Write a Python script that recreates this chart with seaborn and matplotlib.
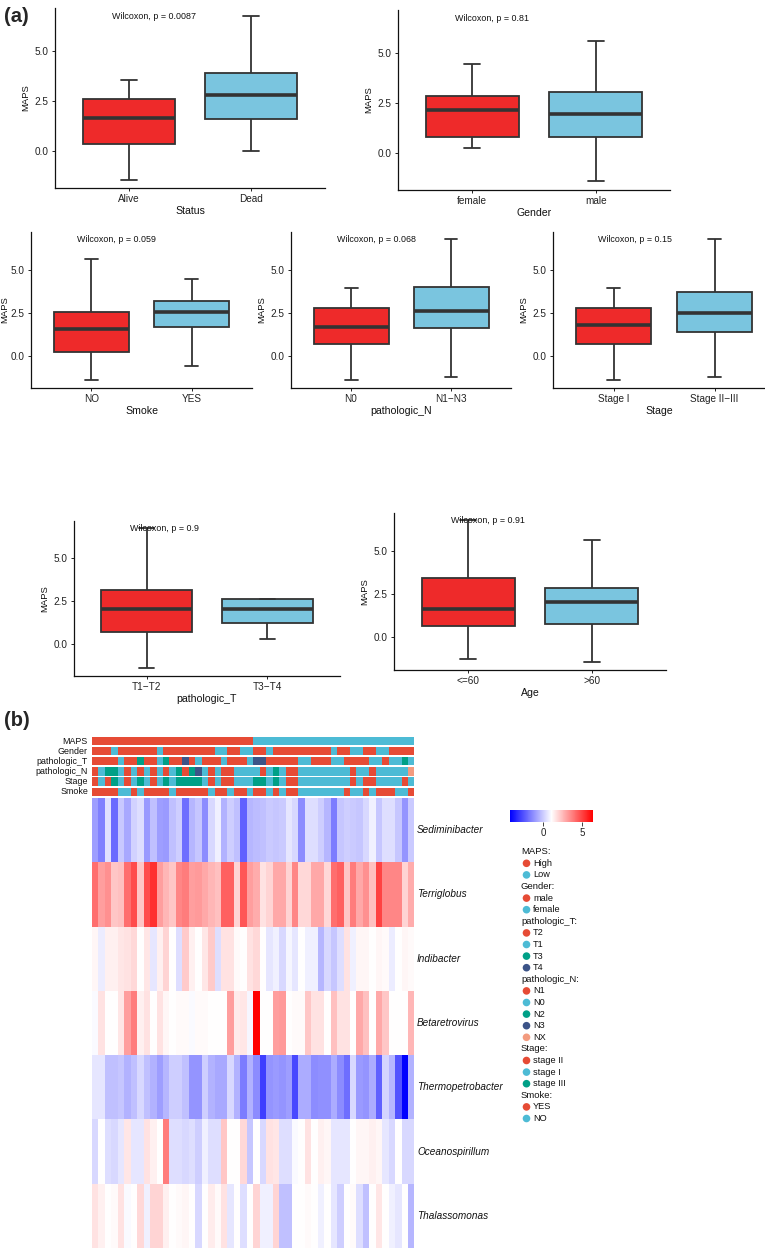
import numpy as np
import pandas as pd
import matplotlib
matplotlib.use("Agg")
import matplotlib.pyplot as plt
import seaborn as sns
from matplotlib.colors import LinearSegmentedColormap, ListedColormap, Normalize
from matplotlib.cm import ScalarMappable

sns.set_style("ticks")
plt.rcParams['font.family'] = ['Liberation Sans', 'DejaVu Sans']

W, H = 765, 1250
fig = plt.figure(figsize=(W / 100, H / 100), dpi=100)


def add_ax(l, t, r, b):
    return fig.add_axes([l / W, 1 - b / H, (r - l) / W, (b - t) / H])


RED, BLUE = "#EE2A2A", "#7AC5DF"

# ---------------- (a) box plots: [lower whisker, Q1, median, Q3, upper whisker]
# overall MAPS extremes of the cohort (hidden outliers still set the y scale)
maps_min, maps_max = -1.47, 6.78

status_cats = ["Alive", "Dead"]
status_alive = [-1.47, 0.33, 1.63, 2.58, 3.55]
status_dead = [0.0, 1.60, 2.80, 3.93, 6.78]

gender_cats = ["female", "male"]
gender_female = [0.23, 0.78, 2.15, 2.85, 4.47]
gender_male = [-1.44, 0.80, 1.95, 3.05, 5.63]

smoke_cats = ["NO", "YES"]
smoke_no = [-1.44, 0.23, 1.56, 2.51, 5.63]
smoke_yes = [-0.60, 1.64, 2.51, 3.19, 4.47]

n_cats = ["N0", "N1\u2212N3"]
n_n0 = [-1.44, 0.70, 1.66, 2.75, 3.92]
n_n13 = [-1.22, 1.58, 2.57, 3.99, 6.78]

stage_cats = ["Stage I", "Stage II\u2212III"]
stage_i = [-1.44, 0.67, 1.80, 2.80, 3.92]
stage_ii3 = [-1.22, 1.40, 2.49, 3.73, 6.78]

t_cats = ["T1\u2212T2", "T3\u2212T4"]
t_t12 = [-1.44, 0.68, 2.05, 3.15, 6.78]
t_t34 = [0.28, 1.20, 2.05, 2.60, 2.65]

age_cats = ["<=60", ">60"]
age_le60 = [-1.22, 0.68, 1.65, 3.45, 6.78]
age_gt60 = [-1.44, 0.80, 2.05, 2.88, 5.63]

p_labels = ["Wilcoxon, p = 0.0087", "Wilcoxon, p = 0.81", "Wilcoxon, p = 0.059",
            "Wilcoxon, p = 0.068", "Wilcoxon, p = 0.15", "Wilcoxon, p = 0.9",
            "Wilcoxon, p = 0.91"]

panels = [
    ((55, 8, 325, 188), status_cats, [status_alive, status_dead], "Status", p_labels[0], None, 3),
    ((398, 10, 670, 190), gender_cats, [gender_female, gender_male], "Gender", p_labels[1], None, 3),
    ((31, 232, 252, 388), smoke_cats, [smoke_no, smoke_yes], "Smoke", p_labels[2], None, 1),
    ((291, 232, 511, 388), n_cats, [n_n0, n_n13], "pathologic_N", p_labels[3], None, 3),
    ((553, 232, 765, 388), stage_cats, [stage_i, stage_ii3], "Stage", p_labels[4], 2.5, 3),
    ((74, 521, 340, 676), t_cats, [t_t12, t_t34], "pathologic_T", p_labels[5], None, 3),
    ((394, 513, 666, 670), age_cats, [age_le60, age_gt60], "Age", p_labels[6], None, 3),
]

for rect, cats, stats, xlabel, ptxt, xmax, lpad in panels:
    ax = add_ax(*rect)
    df = pd.DataFrame({"group": np.repeat(cats, 5), "MAPS": np.concatenate(stats)})
    sns.boxplot(data=df, x="group", y="MAPS", hue="group", order=cats, hue_order=cats,
                palette=[RED, BLUE], saturation=1, width=0.75, whis=(0, 100),
                linewidth=1.3, linecolor="#333333", fliersize=0, legend=False,
                capwidths=0.13, medianprops={"linewidth": 2.6, "color": "#333333"}, ax=ax)
    pad = 0.05 * (maps_max - maps_min)
    ax.set_ylim(maps_min - pad, maps_max + pad)
    ax.set_xlim(-0.6, 1.6 if xmax is None else xmax - 1)
    ax.set_yticks([0, 2.5, 5.0])
    ax.set_yticklabels(["0.0", "2.5", "5.0"])
    ax.set_xlabel(xlabel, fontsize=7.6, labelpad=1.5, color="#111111")
    ax.set_ylabel("MAPS", fontsize=6.8, labelpad=lpad, color="#111111")
    ax.tick_params(axis="both", labelsize=7.2, length=2.5, width=0.7, pad=2,
                   colors="#222222")
    for s in ("top", "right"):
        ax.spines[s].set_visible(False)
    for s in ("left", "bottom"):
        ax.spines[s].set_linewidth(0.9)
        ax.spines[s].set_color("#111111")
    ax.set_facecolor("none")
    ax.text(0.21, maps_max, ptxt, transform=ax.get_yaxis_transform(), ha="left",
            va="center", fontsize=6.4, color="#111111")

# ---------------- (b) heatmap
genera = ["Sediminibacter", "Terriglobus", "Indibacter", "Betaretrovirus",
          "Thermopetrobacter", "Oceanospirillum", "Thalassomonas"]
sediminibacter = [-0.9, -1.55, 0.45, -2.0, -0.05, -0.7, 0.15, 0.4, -1.0, -0.2,
                  -0.9, -1.0, -0.2, 0.1, -1.9, -0.4, -0.1, -1.3, 0.3, 0.8,
                  -0.5, 0.1, -0.2, -2.2, -0.4, -0.3, -0.2, 0.0, -0.1, 0.0,
                  0.6, 0.3, -1.3, 0.4, 0.4, 0.1, -0.4, -1.6, -0.1, 0.1,
                  0.0, -0.1, 0.3, 0.8, -0.1, 0.4, 0.4, -0.1, -1.1, 0.0]
terriglobus = [4.1, 3.1, 3.4, 2.3, 2.4, 4.1, 4.8, 2.3, 4.8, 5.4,
               3.1, 2.6, 2.3, 3.6, 3.8, 3.1, 3.2, 2.9, 2.6, 2.4,
               4.4, 4.4, 2.0, 4.6, 3.1, 2.8, 1.7, 2.0, 2.9, 2.9,
               2.0, 3.6, 1.9, 1.9, 2.9, 2.9, 1.9, 4.1, 4.4, 2.3,
               3.8, 2.9, 3.4, 2.4, 5.0, 3.6, 3.6, 3.6, 2.0, 2.8]
indibacter = [1.3, 0.7, 1.4, 1.4, 1.6, 1.7, 1.9, 1.1, 1.6, 0.6,
              1.4, 2.0, 1.1, 0.4, 2.2, 1.4, 1.1, 1.6, 2.2, 0.4,
              1.7, 1.7, 1.2, 1.1, 1.7, 1.9, 1.1, 0.6, 0.8, 0.3,
              0.9, 0.6, 1.1, 0.8, 0.8, -0.4, 0.3, -0.1, 0.4, 1.7,
              0.8, 1.3, 1.3, 1.1, 1.3, 1.2, 0.7, 1.1, 1.3, 1.2]
betaretrovirus = [1.0, 1.7, 1.1, 1.1, 1.6, 3.1, 3.8, 1.4, 1.7, 1.1,
                  1.7, 1.3, 1.1, 1.2, 1.2, 1.0, 1.2, 1.2, 1.1, 1.1,
                  1.1, 3.1, 1.5, 1.6, 0.9, 6.4, 1.1, 1.1, 3.1, 3.2,
                  1.1, 1.2, 1.2, 2.3, 1.7, 1.7, 1.1, 2.4, 1.7, 1.7,
                  1.1, 2.9, 2.4, 1.1, 2.9, 2.3, 1.1, 1.1, 1.1, 2.6]
thermopetrobacter = [0.6, 0.6, -0.2, -0.2, -0.1, -0.5, -0.2, 0.3, -0.2, -0.5,
                     -0.9, -0.4, 0.1, 0.1, -0.2, -1.1, -1.1, 0.1, -0.5, -0.7,
                     -0.7, 0.3, -0.5, -1.6, -0.5, -1.3, -2.9, -1.1, -1.0, -1.1,
                     -0.9, -2.7, -0.6, -0.6, -1.3, -1.2, -1.2, -0.6, -1.3, -1.9,
                     0.3, -1.0, -1.1, -0.6, -2.2, 0.2, -0.4, -2.5, -4.2, -0.5]
oceanospirillum = [0.3, 1.1, 0.4, 0.3, 0.6, 1.6, 0.6, 0.6, 1.7, 1.4,
                   1.1, 3.8, 0.4, 0.4, 0.3, 0.4, 0.1, 0.8, 0.4, 0.4,
                   2.3, 1.1, 1.1, 1.9, -0.1, 1.1, 0.3, 1.7, 1.6, 0.4,
                   0.4, 1.0, 1.1, 1.7, 1.1, 1.4, 1.3, 0.6, 0.6, 0.6,
                   1.1, 1.3, 1.3, 1.4, 1.3, 0.6, 0.3, 1.1, 0.3, 0.3]
thalassomonas = [1.7, 1.4, 1.1, 1.2, 1.7, 1.0, 1.1, 1.9, 0.8, 2.0,
                 2.0, 1.4, 1.1, 1.2, 1.3, 1.1, 0.3, 1.1, 1.5, 1.2,
                 1.7, 0.6, 1.1, 0.4, 1.1, 2.0, 0.8, 0.8, 2.0, -0.2,
                 -0.2, 1.1, 1.1, 1.2, 1.1, 0.8, 1.1, 0.6, 0.1, 1.1,
                 1.2, 0.4, -0.2, 1.1, 1.6, 1.1, 0.8, 0.6, 1.1, -0.4]

# annotation tracks (one entry per sample column)
maps_ann = ["High"] * 25 + ["Low"] * 25
gender_ann = ["male", "male", "male", "female", "male", "male", "male", "male", "male", "male",
              "female", "male", "male", "male", "male", "male", "male", "male", "male", "female",
              "female", "male", "male", "female", "female", "male", "male", "female", "male", "male",
              "male", "male", "male", "male", "male", "male", "male", "female", "male", "male",
              "female", "female", "male", "male", "female", "female", "male", "male", "male", "male"]
t_ann = ["T2", "T2", "T2", "T2", "T1", "T2", "T2", "T3", "T2", "T2",
         "T1", "T3", "T2", "T2", "T4", "T2", "T1", "T2", "T2", "T2",
         "T1", "T2", "T2", "T2", "T1", "T4", "T4", "T2", "T2", "T2",
         "T2", "T2", "T1", "T1", "T2", "T2", "T2", "T1", "T1", "T2",
         "T2", "T2", "T2", "T1", "T1", "T2", "T1", "T1", "T3", "T1"]
n_ann = ["N1", "N0", "N2", "N2", "N0", "N1", "N0", "N1", "N0", "N1",
         "N0", "N1", "N0", "N2", "N1", "N2", "N3", "N0", "N1", "N0",
         "N1", "N1", "N0", "N0", "N0", "N0", "N1", "N0", "N2", "N0",
         "N1", "N1", "N0", "N0", "N0", "N0", "N0", "N0", "N0", "N0",
         "N1", "N0", "N0", "N1", "N0", "N0", "N0", "N0", "N0", "NX"]
stage_ann = ["stage II", "stage I", "stage II", "stage III", "stage I", "stage II", "stage I", "stage III", "stage I", "stage II",
             "stage I", "stage III", "stage I", "stage III", "stage III", "stage III", "stage III", "stage I", "stage II", "stage I",
             "stage II", "stage II", "stage I", "stage I", "stage I", "stage III", "stage III", "stage I", "stage III", "stage I",
             "stage II", "stage II", "stage I", "stage I", "stage I", "stage I", "stage I", "stage I", "stage I", "stage I",
             "stage II", "stage I", "stage II", "stage II", "stage I", "stage I", "stage I", "stage I", "stage II", "stage I"]
smoke_ann = ["YES", "YES", "YES", "YES", "NO", "NO", "YES", "NO", "YES", "YES",
             "YES", "YES", "NO", "YES", "YES", "YES", "YES", "YES", "NO", "YES",
             "YES", "NO", "YES", "YES", "NO", "YES", "YES", "NO", "YES", "NO",
             "YES", "YES", "NO", "NO", "NO", "NO", "NO", "NO", "NO", "YES",
             "NO", "NO", "YES", "NO", "YES", "YES", "YES", "NO", "NO", "YES"]

NPG = ["#E64B35", "#4DBBD5", "#00A087", "#3C5488", "#F39B7F"]
ann_tracks = [
    ("MAPS", maps_ann, ["High", "Low"]),
    ("Gender", gender_ann, ["male", "female"]),
    ("pathologic_T", t_ann, ["T2", "T1", "T3", "T4"]),
    ("pathologic_N", n_ann, ["N1", "N0", "N2", "N3", "NX"]),
    ("Stage", stage_ann, ["stage II", "stage I", "stage III"]),
    ("Smoke", smoke_ann, ["YES", "NO"]),
]

HX0, HX1 = 92, 414.5
ann_top = 737.0
ann_pitch = 10.1
ann_h = 8.2
for i, (name, vals, levels) in enumerate(ann_tracks):
    t = ann_top + i * ann_pitch
    axa = add_ax(HX0, t, HX1, t + ann_h)
    codes = np.array([[levels.index(v) for v in vals]])
    sns.heatmap(codes, cmap=ListedColormap(NPG[:len(levels)]), vmin=-0.5,
                vmax=len(levels) - 0.5, cbar=False, xticklabels=False,
                yticklabels=False, ax=axa)
    axa.set_xlabel("")
    axa.set_ylabel("")

VMIN, VMAX = -4.2, 6.4
cmap_bwr = LinearSegmentedColormap.from_list("bwr_ph", ["#0000FF", "#FFFFFF", "#FF0000"])
mat = pd.DataFrame([sediminibacter, terriglobus, indibacter, betaretrovirus,
                    thermopetrobacter, oceanospirillum, thalassomonas], index=genera)
HY0, HY1 = 798, 1248
axh = add_ax(HX0, HY0, HX1, HY1)
sns.heatmap(mat, cmap=cmap_bwr, vmin=VMIN, vmax=VMAX, cbar=False,
            xticklabels=False, yticklabels=False, ax=axh)
axh.set_xlabel("")
axh.set_ylabel("")

# colour bar
cax = add_ax(510, 810, 593, 822)
cb = fig.colorbar(ScalarMappable(norm=Normalize(VMIN, VMAX), cmap=cmap_bwr),
                  cax=cax, orientation="horizontal", ticks=[0, 5])
cb.outline.set_visible(False)
cb.ax.tick_params(labelsize=7, length=3, width=0.6, pad=1.5, colors="#222222")

# overlay for free text and legend
ov = fig.add_axes([0, 0, 1, 1])
ov.set_xlim(0, W)
ov.set_ylim(H, 0)
ov.axis("off")
ov.patch.set_visible(False)

ov.text(4, 17, "(a)", fontsize=14.5, fontweight="bold", va="center", ha="left")
ov.text(4, 720, "(b)", fontsize=14.5, fontweight="bold", va="center", ha="left")

for i, (name, vals, levels) in enumerate(ann_tracks):
    t = ann_top + i * ann_pitch
    ov.text(88, t + ann_h / 2, name, fontsize=6.4, ha="right", va="center", color="#111111")

row_h = (HY1 - HY0) / len(genera)
for i, g in enumerate(genera):
    ov.text(417, HY0 + (i + 0.5) * row_h, g, fontsize=7.2, style="italic",
            ha="left", va="center", color="#111111")

ly = 851.7
pitch = 11.6
for name, vals, levels in ann_tracks:
    ov.text(521, ly, name + ":", fontsize=6.8, ha="left", va="center", color="#111111")
    ly += pitch
    for k, lev in enumerate(levels):
        ov.scatter([526.5], [ly], s=30, color=NPG[k], edgecolors="none")
        ov.text(533, ly, lev, fontsize=6.6, ha="left", va="center", color="#111111")
        ly += pitch

fig.savefig("out.png", dpi=100)
